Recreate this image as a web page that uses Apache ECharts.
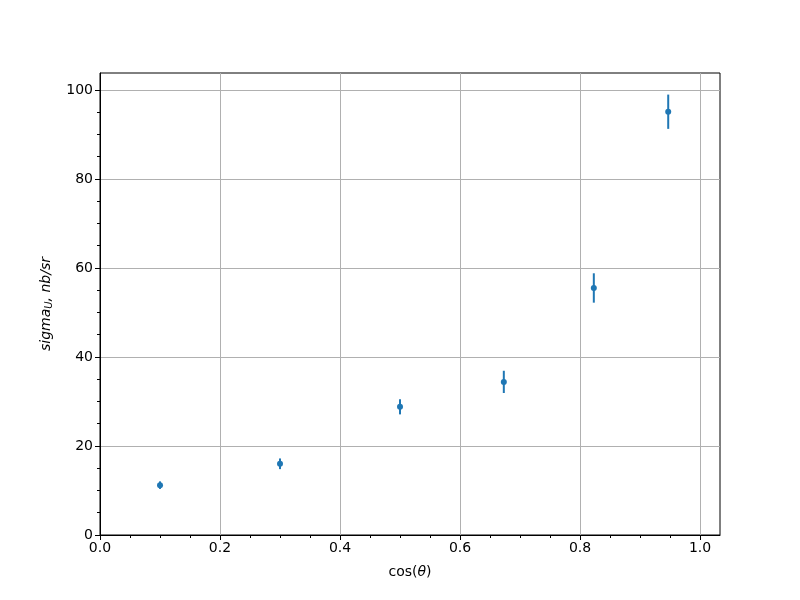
<!DOCTYPE html>
<html><head><meta charset="utf-8">
<script src="https://cdn.jsdelivr.net/npm/echarts@6/dist/echarts.min.js"></script>
<style>html,body{margin:0;padding:0;background:#fff}#c{width:800px;height:600px}</style>
</head><body><div id="c"></div>
<script>
const cosTheta = [0.1, 0.3, 0.5, 0.673, 0.823, 0.947];
const sigmaU = [11.2, 16.0, 28.8, 34.4, 55.5, 95.1];
const sigmaErr = [0.85, 1.2, 1.7, 2.5, 3.3, 3.85];
const xMajorTicks = [0, 0.2, 0.4, 0.6, 0.8, 1.0];
const xMinorTicks = [0.05,0.1,0.15,0.25,0.3,0.35,0.45,0.5,0.55,0.65,0.7,0.75,0.85,0.9,0.95];
const yMajorTicks = [0, 20, 40, 60, 80, 100];
const yMinorTicks = [5,10,15,25,30,35,45,50,55,65,70,75,85,90,95];

const XMIN = 0, XMAX = 1.0333, YMIN = 0, YMAX = 103.8;
const font = 'DejaVu Sans';
const chart = echarts.init(document.getElementById('c'), null, {renderer:'canvas'});
const pts = cosTheta.map((x,i)=>[x, sigmaU[i], sigmaErr[i]]);
const baseX = {type:'value', min:XMIN, max:XMAX, gridIndex:0, position:'bottom'};
const baseY = {type:'value', min:YMIN, max:YMAX, gridIndex:0, position:'left'};
chart.setOption({
  animation:false,
  grid:{left:100, right:80, top:73, bottom:65, show:true, borderColor:'#000', borderWidth:1, backgroundColor:'transparent'},
  xAxis:[
    Object.assign({}, baseX, {
      interval:0.2,
      axisLine:{show:true, onZero:false, lineStyle:{color:'#000', width:1}},
      axisTick:{show:true, inside:false, length:5, customValues:xMajorTicks, lineStyle:{color:'#000', width:1}},
      axisLabel:{customValues:xMajorTicks, color:'#000', fontFamily:font, fontSize:14, margin:6,
        formatter:v=>v.toFixed(1)},
      splitLine:{show:true, lineStyle:{color:'#b0b0b0', width:1}},
      name:'{t|cos(}{i|θ}{t|)}', nameLocation:'middle', nameGap:30,
      nameTextStyle:{rich:{t:{fontFamily:font, fontSize:14, color:'#000'}, i:{fontFamily:font, fontSize:14, fontStyle:'italic', color:'#000'}}}
    }),
    Object.assign({}, baseX, {
      axisLine:{show:false, onZero:false},
      axisTick:{show:true, length:3, customValues:xMinorTicks, lineStyle:{color:'#000', width:1}},
      axisLabel:{show:false}, splitLine:{show:false}
    })
  ],
  yAxis:[
    Object.assign({}, baseY, {
      interval:20,
      axisLine:{show:true, onZero:false, lineStyle:{color:'#000', width:1}},
      axisTick:{show:true, length:5, customValues:yMajorTicks, lineStyle:{color:'#000', width:1}},
      axisLabel:{customValues:yMajorTicks, color:'#000', fontFamily:font, fontSize:14, margin:7},
      splitLine:{show:true, lineStyle:{color:'#b0b0b0', width:1}},
      name:'{i|sigma}{s|U}{i|, nb/sr}', nameLocation:'middle', nameGap:46, nameRotate:90,
      nameTextStyle:{rich:{
        i:{fontFamily:font, fontSize:14, fontStyle:'italic', color:'#000'},
        s:{fontFamily:font, fontSize:10, fontStyle:'italic', color:'#000', verticalAlign:'bottom', padding:[6,0,0,0]}
      }}
    }),
    Object.assign({}, baseY, {
      axisLine:{show:false, onZero:false},
      axisTick:{show:true, length:3, customValues:yMinorTicks, lineStyle:{color:'#000', width:1}},
      axisLabel:{show:false}, splitLine:{show:false}
    })
  ],
  series:[
    {
      type:'custom', xAxisIndex:0, yAxisIndex:0, data:pts, z:3,
      renderItem:(params, api)=>{
        const x = api.value(0), y = api.value(1), e = api.value(2);
        const p1 = api.coord([x, y - e]), p2 = api.coord([x, y + e]);
        return {type:'line', shape:{x1:p1[0], y1:p1[1], x2:p2[0], y2:p2[1]},
          style:{stroke:'#1f77b4', lineWidth:2}};
      }
    },
    {
      type:'scatter', xAxisIndex:0, yAxisIndex:0, data:pts.map(p=>[p[0],p[1]]),
      symbol:'circle', symbolSize:6, itemStyle:{color:'#1f77b4', opacity:1}, z:4
    }
  ]
});
</script></body></html>
